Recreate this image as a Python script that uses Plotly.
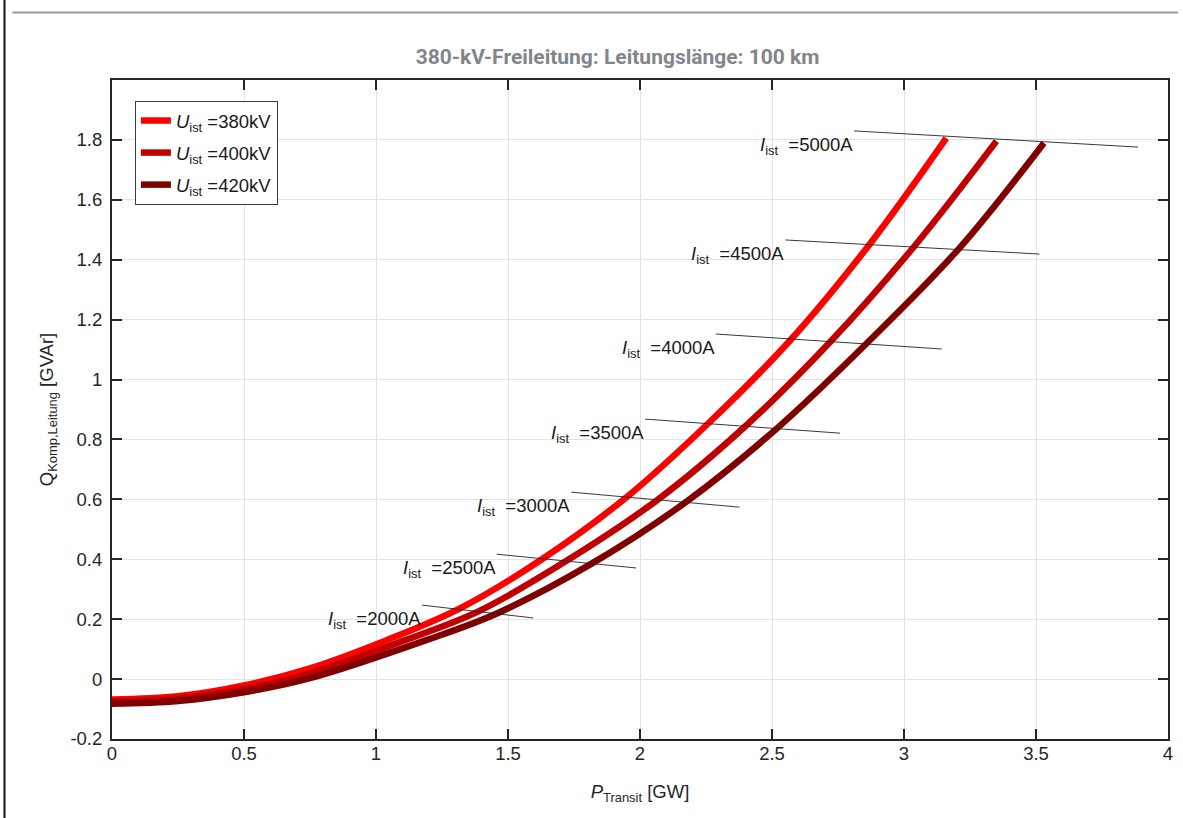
import plotly.graph_objects as go

# ---------------- data ----------------
P_380 = [0, 0.25, 0.5, 0.75, 1.04, 1.32, 1.63, 1.95, 2.26, 2.57, 2.87, 3.16]
Q_380 = [-0.068, -0.057, -0.021, 0.036, 0.130, 0.237, 0.401, 0.608, 0.855, 1.132, 1.452, 1.806]

P_400 = [0, 0.25, 0.5, 0.75, 1.11, 1.39, 1.72, 2.07, 2.40, 2.72, 3.04, 3.35]
Q_400 = [-0.075, -0.065, -0.033, 0.019, 0.130, 0.227, 0.394, 0.601, 0.845, 1.125, 1.446, 1.796]

P_420 = [0, 0.25, 0.5, 0.75, 1.19, 1.46, 1.82, 2.18, 2.52, 2.86, 3.21, 3.53]
Q_420 = [-0.082, -0.073, -0.044, 0.003, 0.130, 0.220, 0.387, 0.595, 0.838, 1.122, 1.439, 1.790]

series_names = ["380kV", "400kV", "420kV"]
series_colors = ["#ff0000", "#c00000", "#800000"]

# constant-current lines
I_labels = ["2000A", "2500A", "3000A", "3500A", "4000A", "4500A", "5000A"]
I_x0 = [1.174, 1.457, 1.740, 2.019, 2.287, 2.551, 2.811]
I_y0 = [0.247, 0.417, 0.624, 0.868, 1.152, 1.466, 1.830]
I_x1 = [1.596, 1.985, 2.377, 2.758, 3.143, 3.513, 3.887]
I_y1 = [0.204, 0.371, 0.574, 0.821, 1.102, 1.419, 1.776]

x_ticks = [0, 0.5, 1, 1.5, 2, 2.5, 3, 3.5, 4]
x_ticktext = ["0", "0.5", "1", "1.5", "2", "2.5", "3", "3.5", "4"]
y_ticks = [-0.2, 0, 0.2, 0.4, 0.6, 0.8, 1.0, 1.2, 1.4, 1.6, 1.8]
y_ticktext = ["-0.2", "0", "0.2", "0.4", "0.6", "0.8", "1", "1.2", "1.4", "1.6", "1.8"]

title_text = "380-kV-Freileitung: Leitungslänge: 100 km"

# ---------------- layout geometry ----------------
W, H = 1183, 818
L, R, T, B = 112, 1173, 80, 739
pw, ph = R - L, B - T


def px2x(px):
    return (px - L) / pw


def py2y(py):
    return (B - py) / ph


FONT = "Liberation Sans, Arial, Helvetica, sans-serif"
FS = 18.5
TXT = "#262626"

fig = go.Figure()

for i, (P, Q, name, col) in enumerate(zip([P_380, P_400, P_420], [Q_380, Q_400, Q_420],
                                          series_names, series_colors)):
    fig.add_trace(go.Scatter(
        x=P, y=Q, mode="lines", name="<i>U</i><sub>ist</sub> =" + name,
        legendgroup="g%d" % i,
        line=dict(color=col, width=6.5, shape="spline", smoothing=1.0),
        hoverinfo="skip"))

for lab, x0, y0, x1, y1 in zip(I_labels, I_x0, I_y0, I_x1, I_y1):
    fig.add_trace(go.Scatter(
        x=[x0, x1], y=[y0, y1], mode="lines", showlegend=False,
        line=dict(color="#222222", width=0.9), hoverinfo="skip"))
    fig.add_annotation(
        x=x0, y=y0, xref="x", yref="y", xanchor="right", yanchor="top",
        text="<i>I</i><sub>ist</sub>  =" + lab, showarrow=False,
        font=dict(family=FONT, size=FS, color="#1a1a1a"), yshift=-1,
        xshift=1)

axis_common = dict(
    showgrid=True, gridcolor="#e3e3e3", gridwidth=1,
    showline=True, linecolor=TXT, linewidth=2, mirror="ticks",
    ticks="inside", ticklen=10, tickwidth=2, tickcolor=TXT,
    zeroline=False,
    tickfont=dict(family=FONT, size=FS, color=TXT),
)

fig.update_xaxes(
    range=[0, 4], tickvals=x_ticks, ticktext=x_ticktext,
    title=dict(text="<i>P</i><sub>Transit</sub> [GW]",
               font=dict(family=FONT, size=FS, color=TXT), standoff=22),
    ticklabelstandoff=-3,
    **axis_common)
fig.update_yaxes(
    range=[-0.2, 2.0], tickvals=y_ticks, ticktext=y_ticktext,
    title=dict(text="Q<sub>Komp,Leitung</sub> [GVAr]",
               font=dict(family=FONT, size=FS, color=TXT), standoff=12),
    ticklabelstandoff=4,
    **axis_common)

fig.update_layout(
    width=W, height=H,
    margin=dict(l=L, r=W - R, t=T, b=H - B, pad=0),
    paper_bgcolor="white", plot_bgcolor="white",
    title=dict(text="<b>" + title_text + "</b>", x=px2x(620), xref="paper",
               xanchor="center", y=1 - 57 / H, yanchor="middle",
               font=dict(family="Roboto, sans-serif", size=21, color="#80868b")),
    legend=dict(x=px2x(135), y=py2y(101), xanchor="left", yanchor="top",
                bgcolor="white", bordercolor="#3c3c3c", borderwidth=1,
                font=dict(family=FONT, size=FS, color="#1a1a1a"),
                tracegroupgap=5),
    showlegend=True,
)

# document frame decorations (outside the plot)
fig.add_shape(type="line", xref="paper", yref="paper",
              x0=px2x(4), x1=px2x(4), y0=py2y(0), y1=py2y(H),
              line=dict(color="#111111", width=2), layer="above")
fig.add_shape(type="line", xref="paper", yref="paper",
              x0=px2x(12), x1=px2x(W), y0=py2y(12.5), y1=py2y(12.5),
              line=dict(color="#9a9a9a", width=2), layer="above")

fig.write_html(
    "out.html",
    config={"displayModeBar": False},
    post_script="document.body.style.margin='0';document.body.style.overflow='hidden';")
